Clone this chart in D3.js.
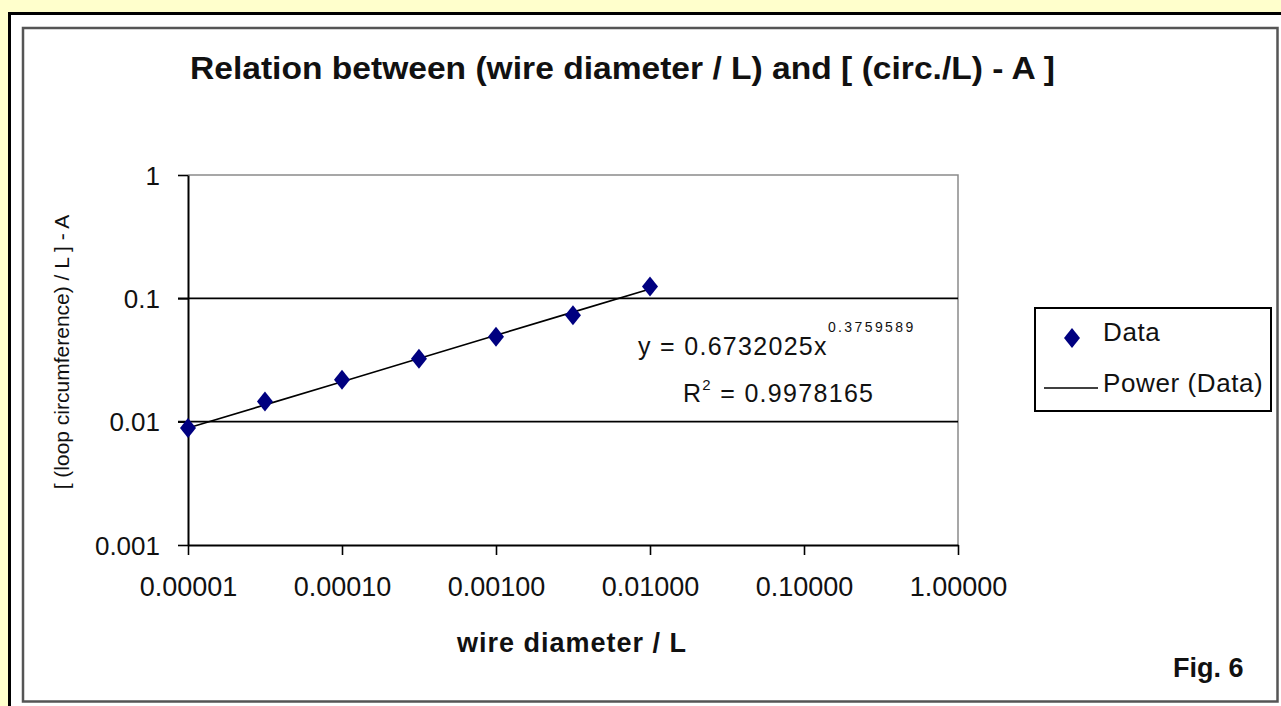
<!DOCTYPE html>
<html>
<head>
<meta charset="utf-8">
<script src="https://cdn.jsdelivr.net/npm/d3@7"></script>
<style>
  html, body { margin: 0; padding: 0; background: #FFFFCC; }
  svg { display: block; font-family: "Liberation Sans", Arial, sans-serif; }
</style>
</head>
<body>
<svg width="1281" height="706"></svg>
<script>
// wire diameter / L  (half decade steps)
const X_VALUES = [0.00001, 0.0000316, 0.0001, 0.000316, 0.001, 0.00316, 0.01];
// [ (loop circumference) / L ] - A
const Y_VALUES = [0.0089, 0.0146, 0.0219, 0.0324, 0.0487, 0.0728, 0.125];

// power trendline shown on the chart
const FIT_COEF = 0.6732025;
const FIT_EXP = 0.3759589;
const R_SQUARED = "0.9978165";

const X_TICKS = [0.00001, 0.0001, 0.001, 0.01, 0.1, 1];
const X_TICK_LABELS = ["0.00001", "0.00010", "0.00100", "0.01000", "0.10000", "1.00000"];
const Y_TICKS = [0.001, 0.01, 0.1, 1];
const Y_TICK_LABELS = ["0.001", "0.01", "0.1", "1"];
const GRID_VALUES = [0.01, 0.1];

const svg = d3.select('svg');

// frame
svg.append('rect')
    .attr('x', 9.5).attr('y', 13.5)
    .attr('width', 1300).attr('height', 720)
    .attr('fill', '#fff').attr('stroke', '#000').attr('stroke-width', 3);
svg.append('rect')
    .attr('x', 23).attr('y', 28)
    .attr('width', 1254.5).attr('height', 673.5)
    .attr('fill', 'none').attr('stroke', '#555').attr('stroke-width', 2.5);

const plotLeft = 188, plotRight = 958, plotTop = 175, plotBottom = 545;

const xScale = d3.scaleLog()
    .domain([0.00001, 1])
    .range([plotLeft, plotRight]);

const yScale = d3.scaleLog()
    .domain([0.001, 1])
    .range([plotBottom, plotTop]);

// plot border (top / right)
svg.append('path')
    .attr('d', `M${plotLeft},${yScale(1)}H${xScale(1)}V${plotBottom}`)
    .attr('fill', 'none').attr('stroke', '#8a8a8a').attr('stroke-width', 1.5);

// gridlines
svg.selectAll('.grid')
    .data(GRID_VALUES)
    .enter()
    .append('line')
    .classed('grid', true)
    .attr('x1', plotLeft - 10).attr('x2', plotRight)
    .attr('y1', d => yScale(d)).attr('y2', d => yScale(d))
    .attr('stroke', '#000').attr('stroke-width', 1.6);

// axes
const yAxis = d3.axisLeft(yScale)
    .tickValues(Y_TICKS)
    .tickFormat((d, i) => Y_TICK_LABELS[i])
    .tickSizeInner(10).tickSizeOuter(0)
    .tickPadding(18);

const yG = svg.append('g')
    .attr('transform', `translate(${plotLeft},0)`)
    .call(yAxis);

const xAxis = d3.axisBottom(xScale)
    .tickValues(X_TICKS)
    .tickFormat((d, i) => X_TICK_LABELS[i])
    .tickSizeInner(10).tickSizeOuter(0);

const xG = svg.append('g')
    .attr('transform', `translate(0,${plotBottom})`)
    .call(xAxis);

[xG, yG].forEach(g => {
    g.select('.domain').attr('stroke', '#000').attr('stroke-width', 2);
    g.selectAll('.tick line').attr('stroke', '#000').attr('stroke-width', 1.6);
    g.selectAll('.tick text')
        .attr('fill', '#111')
        .style('font-size', '26px')
        .style('font-family', '"Liberation Sans", Arial, sans-serif');
});
yG.selectAll('.tick text').attr('dy', '0.35em');
xG.selectAll('.tick text').attr('y', 42).attr('dy', '0.35em').style('font-size', '27px');

// trendline
const fitLine = d3.line()
    .x(d => xScale(d))
    .y(d => yScale(FIT_COEF * Math.pow(d, FIT_EXP)));

svg.append('path')
    .datum(X_VALUES)
    .attr('d', fitLine)
    .attr('fill', 'none')
    .attr('stroke', '#000')
    .attr('stroke-width', 1.6);

// data points
const diamond = 'M0,-10L8,0L0,10L-8,0Z';
svg.selectAll('.point')
    .data(X_VALUES)
    .enter()
    .append('path')
    .classed('point', true)
    .attr('d', diamond)
    .attr('transform', (d, i) => `translate(${xScale(d)},${yScale(Y_VALUES[i])})`)
    .attr('fill', '#000080');

// title
svg.append('text')
    .attr('x', 190).attr('y', 79)
    .attr('textLength', 865)
    .attr('lengthAdjust', 'spacingAndGlyphs')
    .style('font-weight', 'bold').style('font-size', '32px')
    .attr('fill', '#111')
    .text('Relation between (wire diameter / L) and [ (circ./L) - A ]');

// axis titles
svg.append('text')
    .attr('x', 572).attr('y', 652)
    .attr('text-anchor', 'middle')
    .style('font-weight', 'bold').style('font-size', '27px')
    .style('letter-spacing', '1px')
    .attr('fill', '#111')
    .text('wire diameter / L');

svg.append('text')
    .attr('transform', 'translate(62,352) rotate(-90)')
    .attr('dy', '0.35em')
    .attr('text-anchor', 'middle')
    .style('font-size', '21px')
    .attr('fill', '#111')
    .text('[ (loop circumference) / L ] - A');

// equation
const eq = svg.append('text')
    .attr('x', 638).attr('y', 355)
    .style('font-size', '25px')
    .attr('fill', '#111');
eq.append('tspan').text(`y = ${FIT_COEF}x`).style('letter-spacing', '1.3px');
eq.append('tspan').attr('dy', -23)
    .style('font-size', '14px').style('letter-spacing', '2.4px')
    .text(FIT_EXP);

const r2 = svg.append('text')
    .attr('x', 683).attr('y', 402)
    .style('font-size', '25px')
    .style('letter-spacing', '1.3px')
    .attr('fill', '#111');
r2.append('tspan').text('R');
r2.append('tspan').attr('dy', -12).style('font-size', '15px').text('2');
r2.append('tspan').attr('dy', 12).text(` = ${R_SQUARED}`);

// legend
const legend = svg.append('g');
legend.append('rect')
    .attr('x', 1035).attr('y', 308)
    .attr('width', 236).attr('height', 103)
    .attr('fill', '#fff').attr('stroke', '#000').attr('stroke-width', 2);
legend.append('path')
    .attr('d', diamond)
    .attr('transform', 'translate(1072,338)')
    .attr('fill', '#000080');
legend.append('text')
    .attr('x', 1103).attr('y', 332).attr('dy', '0.35em')
    .style('font-size', '26px').style('letter-spacing', '0.6px').attr('fill', '#111')
    .text('Data');
legend.append('line')
    .attr('x1', 1044).attr('x2', 1098)
    .attr('y1', 388).attr('y2', 388)
    .attr('stroke', '#000').attr('stroke-width', 1.6);
legend.append('text')
    .attr('x', 1103).attr('y', 383).attr('dy', '0.35em')
    .style('font-size', '26px').style('letter-spacing', '0.6px').attr('fill', '#111')
    .text('Power (Data)');

// figure label
svg.append('text')
    .attr('x', 1173).attr('y', 677)
    .style('font-weight', 'bold').style('font-size', '27px')
    .attr('fill', '#111')
    .text('Fig. 6');
</script>
</body>
</html>
